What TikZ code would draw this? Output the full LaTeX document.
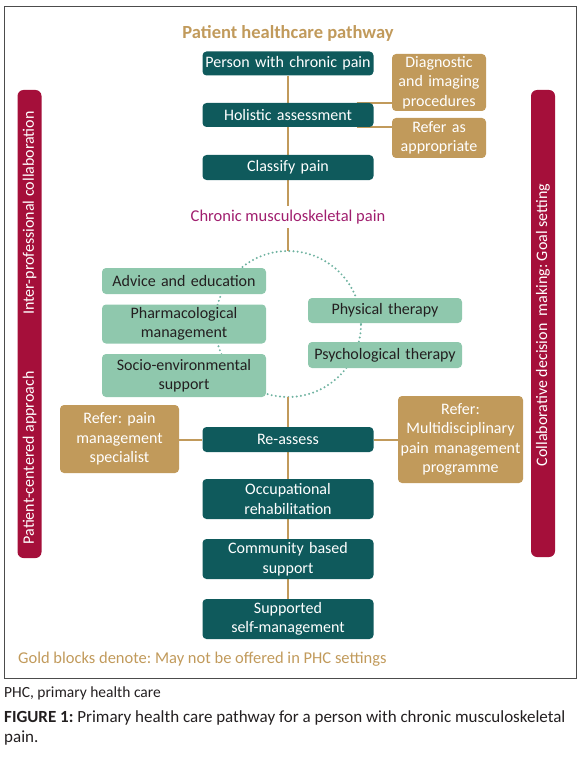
\documentclass[tikz,border=0pt]{standalone}
\usepackage{fontspec}
\setmainfont{Carlito}
\frenchspacing
\usepackage{tikz}
\usetikzlibrary{positioning, calc, backgrounds}
\definecolor{myteal}{RGB}{15,90,92}
\definecolor{mygold}{RGB}{193,154,91}
\definecolor{mygreen}{RGB}{143,200,173}
\definecolor{mycrimson}{RGB}{165,15,58}
\definecolor{mymagenta}{RGB}{160,30,110}
\definecolor{mydots}{RGB}{110,178,160}
\definecolor{mytext}{RGB}{35,31,32}
\tikzset{
  tealblock/.style={rectangle, fill=myteal, text=white,
    text width=167pt, align=center, inner xsep=2pt, inner ysep=0pt,
    rounded corners=4pt, font=\fontsize{16}{19.5}\selectfont},
  goldblock/.style={rectangle, fill=mygold, text=white,
    align=center, inner xsep=2pt, inner ysep=0pt,
    rounded corners=4pt, font=\fontsize{16}{19.5}\selectfont},
  greenblock/.style={rectangle, fill=mygreen, text=mytext,
    align=center, inner xsep=2pt, inner ysep=0pt,
    rounded corners=4pt, font=\fontsize{16}{19.5}\selectfont},
  sidebar/.style={rectangle, fill=mycrimson, rounded corners=6pt,
    minimum width=24pt, inner sep=0pt},
  bartext/.style={rotate=90, text=white, font=\fontsize{16}{18}\selectfont},
  link/.style={draw=mygold, line width=2pt},
  dotring/.style={draw=mydots, line width=2.2pt, line cap=round,
    dash pattern=on 0pt off 4.2pt}
}

\begin{document}
\begin{tikzpicture}[x=1pt, y=-1pt]
  \useasboundingbox (0,0) rectangle (580,762);

  % Frame
  \draw[black!70, line width=0.8pt] (4,6) rectangle (576,678);

  % Title
  \node[text=mygold, font=\fontsize{18.5}{21}\selectfont\bfseries] (title) at (288,33) {Patient healthcare pathway};

  % Side bars
  \node[sidebar, minimum height=468pt] (lbar) at (29.5,324) {};
  \node[sidebar, minimum height=467pt] (rbar) at (543,323.5) {};
  \node[bartext] (ipc) at (29.5,213) {Inter-professional collaboration};
  \node[bartext] (pca) at (29.5,458) {Patient-centered approach};
  \node[bartext] (cdm) at (543,325) {Collaborative decision\ \ making: Goal setting};

  % Main pathway
  \node[tealblock, minimum height=24pt] (person) at (288,63.5) {Person with chronic pain};
  \node[tealblock, minimum height=24pt] (hol) at (288,115) {Holistic assessment};
  \node[tealblock, minimum height=25pt] (cls) at (288,167.5) {Classify pain};
  \node[text=mymagenta, font=\fontsize{16.5}{19}\selectfont, inner sep=4pt] (cmsk) at (288,217) {Chronic musculoskeletal pain};
  \node[tealblock, minimum height=25pt] (reas) at (288,439.5) {Re-assess};
  \node[tealblock, minimum height=40pt] (occ) at (288,499) {Occupational\\rehabilitation};
  \node[tealblock, minimum height=40pt] (comm) at (288,559) {Community based\\support};
  \node[tealblock, minimum height=40pt] (supp) at (288,619) {Supported\\self-management};

  % Gold blocks
  \node[goldblock, text width=90pt, minimum height=57pt] (diag) at (439,82.5) {Diagnostic\\and imaging\\procedures};
  \node[goldblock, text width=90pt, minimum height=40pt] (refas) at (439,138) {Refer as\\appropriate};
  \node[goldblock, text width=115pt, minimum height=68pt] (refspec) at (119.5,439) {Refer: pain\\management\\specialist};
  \node[goldblock, text width=121pt, minimum height=87pt] (refmdt) at (460.5,439.5) {Refer:\\Multidisciplinary\\pain management\\programme};

  % Treatment options
  \node[greenblock, text width=160pt, minimum height=26pt] (adv) at (184,281) {Advice and education};
  \node[greenblock, text width=160pt, minimum height=39pt] (pharm) at (184,324) {Pharmacological\\management};
  \node[greenblock, text width=160pt, minimum height=43pt] (socio) at (184,375.5) {Socio-environmental\\support};
  \node[greenblock, text width=150pt, minimum height=25pt] (phys) at (385,310.5) {Physical therapy};
  \node[greenblock, text width=150pt, minimum height=26pt] (psych) at (385,355) {Psychological therapy};

  % Note
  \node[anchor=west, text=mygold, font=\fontsize{16.5}{19}\selectfont, inner sep=0pt] (note) at (18,659) {Gold blocks denote: May not be offered in PHC settings};

  % Caption
  \node[anchor=west, text=mytext, font=\fontsize{15.5}{18}\selectfont, inner sep=0pt] (abbr) at (4,693) {PHC, primary health care};
  \node[anchor=north west, align=left, text=mytext, font=\fontsize{17}{20}\selectfont, inner sep=0pt] (cap) at (4,710) {\textbf{FIGURE 1:} Primary health care pathway for a person with chronic musculoskeletal\\pain.};

  % Connectors
  \coordinate (ctop) at (288,251);
  \coordinate (cbot) at (288,397);
  \coordinate (hA) at ($(hol.north east)+(-17,0)$);
  \coordinate (hB) at ($(hol.south east)+(-17,0)$);
  \begin{scope}[on background layer]
    \draw[dotring] (288,324) circle (73pt);
    \draw[link] (person) -- (hol);
    \draw[link] (hol) -- (cls);
    \draw[link] (cls.south) -- (cmsk.north);
    \draw[link] (cmsk.south) -- (ctop);
    \draw[link] (cbot) -- (reas);
    \draw[link] (reas) -- (occ);
    \draw[link] (occ) -- (comm);
    \draw[link] (comm) -- (supp);
    \draw[link] (hA) -- (hA -| diag.west);
    \draw[link] (hB) -- (hB -| refas.west);
    \draw[link] (reas.west) -- (reas.west -| refspec.east);
    \draw[link] (reas.east) -- (reas.east -| refmdt.west);
  \end{scope}
\end{tikzpicture}
\end{document}
